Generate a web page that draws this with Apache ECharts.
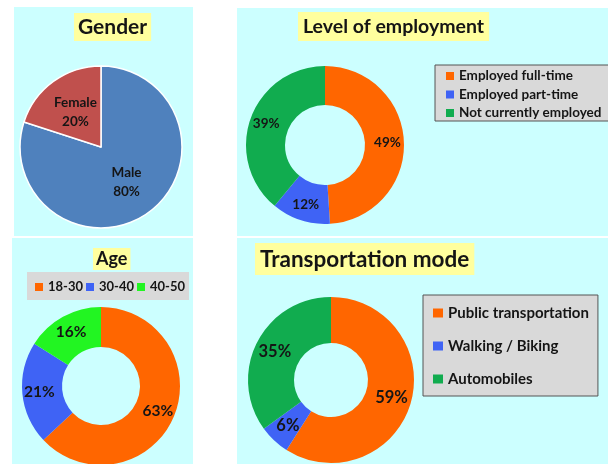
<!DOCTYPE html>
<html>
<head>
<meta charset="utf-8">
<script src="https://cdn.jsdelivr.net/npm/echarts@6/dist/echarts.min.js"></script>
<style>
html,body{margin:0;padding:0;background:#fff;}
#c{width:608px;height:464px;}
</style>
</head>
<body>
<div id="c"></div>
<script>
// ---- data ----
const genderCats = ['Male', 'Female'];
const genderVals = [80, 20];
const employCats = ['Employed full-time', 'Employed part-time', 'Not currently employed'];
const employVals = [49, 12, 39];
const ageCats = ['18-30', '30-40', '40-50'];
const ageVals = [63, 21, 16];
const transCats = ['Public transportation', 'Walking / Biking', 'Automobiles'];
const transVals = [59, 6, 35];
const panelTitles = ['Gender', 'Level of employment', 'Age', 'Transportation mode'];

// ---- styles ----
const FONT = 'Lato, "Open Sans", sans-serif';
const ORANGE = '#FF6600';
const BLUE = '#3F63F5';
const GREEN = '#11AC4F';
const LIME = '#22F522';
const PANEL = '#CCFFFF';
const TITLEBG = '#FFFF9E';
const TXT = '#151515';

function toData(cats, vals, colors) {
  return cats.map((c, i) => ({ name: c, value: vals[i], itemStyle: colors ? { color: colors[i] } : undefined }));
}

const chart = echarts.init(document.getElementById('c'), null, { renderer: 'canvas' });

const labelBase = (size) => ({
  show: true, position: 'inside', formatter: '{c}%', color: TXT,
  fontFamily: FONT, fontWeight: 'bold', fontSize: size
});

const option = {
  animation: false,
  backgroundColor: '#ffffff',
  graphic: [
    { type: 'rect', z: -10, shape: { x: 14, y: 7, width: 179, height: 229 }, style: { fill: PANEL } },
    { type: 'rect', z: -10, shape: { x: 237, y: 8, width: 371, height: 228 }, style: { fill: PANEL } },
    { type: 'rect', z: -10, shape: { x: 12, y: 238, width: 181, height: 226 }, style: { fill: PANEL } },
    { type: 'rect', z: -10, shape: { x: 237, y: 238, width: 371, height: 226 }, style: { fill: PANEL } }
  ],
  title: [
    { text: panelTitles[0], left: 74, top: 13, backgroundColor: TITLEBG, padding: [4, 4, 3, 4],
      textStyle: { fontFamily: FONT, fontWeight: 'bold', fontSize: 21, color: TXT } },
    { text: panelTitles[1], left: 298, top: 12, backgroundColor: TITLEBG, padding: [5, 5, 4, 5],
      textStyle: { fontFamily: FONT, fontWeight: 'bold', fontSize: 19.5, color: TXT } },
    { text: panelTitles[2], left: 93, top: 248, backgroundColor: TITLEBG, padding: [2, 3, 2, 3],
      textStyle: { fontFamily: FONT, fontWeight: 'bold', fontSize: 18, color: TXT } },
    { text: panelTitles[3], left: 255, top: 243, backgroundColor: TITLEBG, padding: [5, 5, 4, 5],
      textStyle: { fontFamily: FONT, fontWeight: 'bold', fontSize: 22.5, color: TXT } }
  ],
  legend: [
    { data: employCats, orient: 'vertical', left: 435, top: 65, icon: 'rect',
      itemWidth: 8, itemHeight: 8, itemGap: 4.5, selectedMode: false,
      backgroundColor: '#D9D9D9', borderColor: '#555', borderWidth: 1, borderRadius: 0,
      padding: [4, 8, 1, 11],
      textStyle: { fontFamily: FONT, fontWeight: 'bold', fontSize: 13.5, lineHeight: 14, color: TXT } },
    { data: ageCats, orient: 'horizontal', left: 27, top: 272, icon: 'rect',
      itemWidth: 8, itemHeight: 8, itemGap: 3, selectedMode: false,
      backgroundColor: '#D9D9D9', borderWidth: 0,
      padding: [7, 4, 5, 8],
      textStyle: { fontFamily: FONT, fontWeight: 'bold', fontSize: 13, lineHeight: 16, color: TXT } },
    { data: transCats, orient: 'vertical', left: 423, top: 295, icon: 'rect',
      itemWidth: 10, itemHeight: 9, itemGap: 15, selectedMode: false,
      backgroundColor: '#D9D9D9', borderColor: '#555', borderWidth: 1,
      padding: [9, 9, 8, 10],
      textStyle: { fontFamily: FONT, fontWeight: 'bold', fontSize: 15, lineHeight: 18, color: TXT } }
  ],
  series: [
    { type: 'pie', name: 'Gender', center: [101, 147], radius: [0, 81],
      startAngle: 90, clockwise: true, silent: true,
      itemStyle: { borderColor: '#ffffff', borderWidth: 1.5 },
      label: Object.assign(labelBase(13.5), { formatter: '{b}\n{c}%', lineHeight: 19 }),
      labelLine: { show: false },
      data: toData(genderCats, genderVals, ['#4F81BD', '#C0504D']) },
    { type: 'pie', name: 'Level of employment', center: [325, 145], radius: [40, 79],
      startAngle: 90, clockwise: true, silent: true,
      label: labelBase(13.5), labelLine: { show: false },
      data: toData(employCats, employVals, [ORANGE, BLUE, GREEN]) },
    { type: 'pie', name: 'Age', center: [101, 386], radius: [39, 79],
      startAngle: 90, clockwise: true, silent: true,
      label: labelBase(15.5), labelLine: { show: false },
      data: toData(ageCats, ageVals, [ORANGE, BLUE, LIME]) },
    { type: 'pie', name: 'Transportation mode', center: [331, 380], radius: [37, 83],
      startAngle: 90, clockwise: true, silent: true,
      label: labelBase(16.5), labelLine: { show: false },
      data: toData(transCats, transVals, [ORANGE, BLUE, GREEN]) }
  ]
};
chart.setOption(option);
</script>
</body>
</html>
